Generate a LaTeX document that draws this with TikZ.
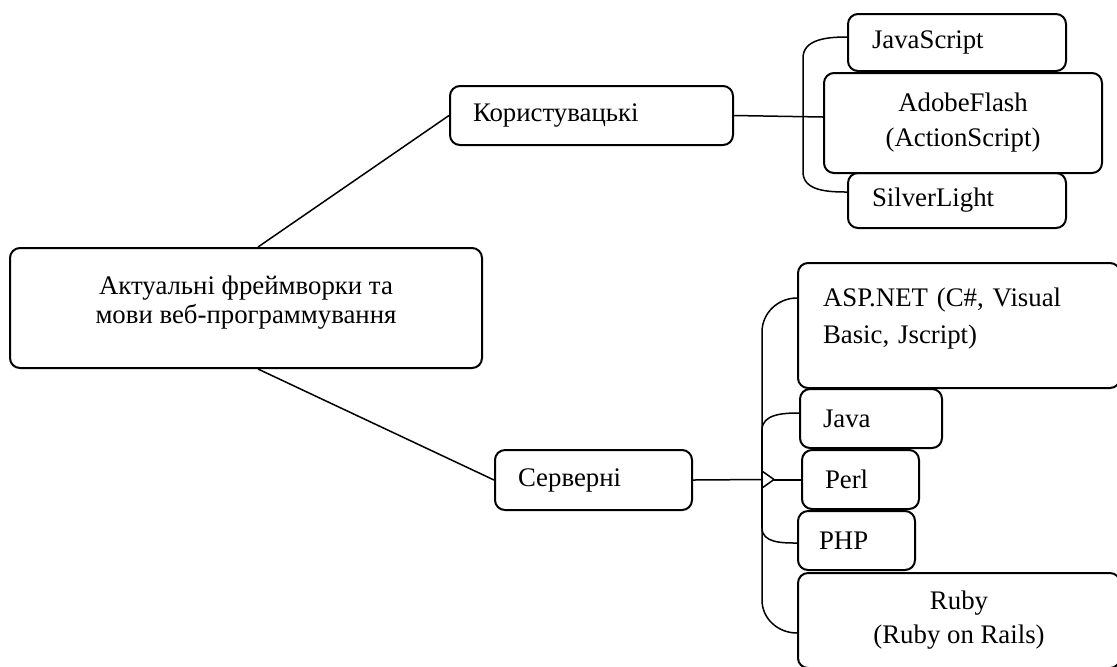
\documentclass[tikz,border=0pt]{standalone}
\usepackage{fontspec}
\setmainfont{Liberation Serif}
\begin{document}
\begin{tikzpicture}[x=0.5pt,y=-0.5pt,
  box/.style={draw, line width=1pt, rounded corners=5pt, inner sep=0pt, font=\fontsize{13.4}{17.5}\selectfont},
  lbox/.style={box, align=left},
  cbox/.style={box, align=center},
  conn/.style={line width=0.75pt}]
\useasboundingbox (0,0) rectangle (1117,666);

% nodes
\node[cbox, minimum width=236pt, minimum height=60pt, font=\fontsize{13.4}{14.5}\selectfont] (root) at (246,308)
  {Актуальні фреймворки та\\мови веб-программування\\[-6pt]\mbox{}};
\node[lbox, inner xsep=11.5pt, text width=118.5pt, minimum height=29.5pt] (kor) at (591.5,115.5) {Користувацькі};
\node[lbox, inner xsep=11.5pt, text width=75.5pt, minimum height=30pt] (serv) at (593.5,480) {Серверні};

\node[lbox, inner xsep=12pt, text width=85pt, minimum height=28.5pt] (js) at (957,42.5) {JavaScript};
\node[cbox, minimum width=139pt, minimum height=50pt, font=\fontsize{13.4}{17.5}\selectfont] (af) at (963,123) {AdobeFlash\\(ActionScript)};
\node[lbox, inner xsep=12pt, text width=85pt, minimum height=27.5pt] (sl) at (957,200.5) {SilverLight};

\node[lbox, inner xsep=12.5pt, text width=136pt, minimum height=62.5pt, font=\fontsize{13.4}{18.5}\selectfont] (asp) at (959,325.5)
  {ASP.NET (C\#, Visual\\Basic, Jscript)\\[-8.5pt]\mbox{}};
\node[lbox, inner xsep=11.5pt, text width=48pt, minimum height=29.5pt] (java) at (871,418.5) {Java};
\node[lbox, inner xsep=11.5pt, text width=35.5pt, minimum height=29.5pt] (perl) at (860.5,479.5) {Perl};
\node[lbox, inner xsep=10.5pt, text width=37.5pt, minimum height=29.5pt] (php) at (856.5,540.5) {PHP};
\node[cbox, minimum width=161pt, minimum height=47.5pt, font=\fontsize{13.4}{17}\selectfont] (ruby) at (959,620.5) {Ruby\\(Ruby on Rails)};

% main connectors
\draw[conn] ([xshift=6pt]root.north) -- (kor.west);
\draw[conn] ([xshift=6pt]root.south) -- (serv.west);
\draw[conn] (kor.east) -- ([yshift=3pt]af.west);

% top bracket
\coordinate (tbTop) at (803,58);
\coordinate (tbBot) at (803,172);
\draw[conn] ([yshift=2.75pt]js.west) to[out=180,in=90] (tbTop) -- (tbBot) to[out=-90,in=180] ([yshift=4.25pt]sl.west);

% bottom bracket
\coordinate (bbTop) at (762,332);
\coordinate (bbBot) at (762,600);
\coordinate (bbJ) at (762,430);
\coordinate (bbP) at (762,528);
\coordinate (bbMid) at (762,479.5);
\coordinate (bbUp) at (762,471);
\coordinate (bbDn) at (762,488);
\coordinate (bbTip) at (774,479.5);
\draw[conn] ([yshift=13.75pt]asp.west) to[out=180,in=90] (bbTop) -- (bbBot) to[out=-90,in=180] ([yshift=-6.25pt]ruby.west);
\draw[line width=1.3pt] (bbJ) -- (bbP);
\draw[conn] (bbJ) to[out=90,in=180] ([yshift=2.75pt]java.west);
\draw[conn] (bbP) to[out=-90,in=180] ([yshift=-1.25pt]php.west);
\draw[conn] (bbUp) -- (bbTip) -- (bbDn);
\draw[line width=1pt] (bbTip) -- (perl.west);
\draw[conn] (serv.east) -- (bbMid);
\end{tikzpicture}
\end{document}
